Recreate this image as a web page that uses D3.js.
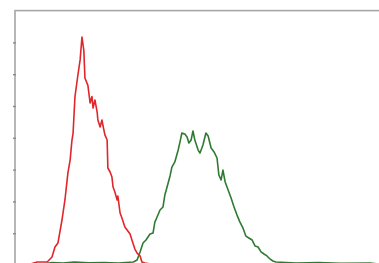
<!DOCTYPE html>
<html>
<head>
<meta charset="utf-8">
<script src="https://cdn.jsdelivr.net/npm/d3@7"></script>
<style>
  body { margin: 0; background: #fff; }
</style>
</head>
<body>
<script>
// channel (fluorescence) values and event counts for the two histograms
var redChannel = [0, 40, 60, 87, 100, 108, 116, 127, 135, 143, 149, 154, 157, 162, 170, 176, 181, 186, 189, 197, 203, 208, 211, 216, 222, 224, 230, 235, 238, 243, 249, 251, 257, 262, 265, 270, 276, 278, 284, 289, 297, 303, 311, 316, 324, 330, 338, 343, 351, 380];
var redCount = [0, 0.5, 1.9, 1.9, 5, 11.3, 13.8, 28.3, 40.9, 57.9, 66, 78.6, 83, 105.7, 119.5, 129, 143.4, 135, 117.6, 113, 101.9, 106, 98.7, 103.8, 96.2, 91.2, 86.8, 91.2, 87.4, 81.8, 78.6, 61, 58.5, 55.3, 49, 45.9, 40.9, 43.4, 32.7, 29.6, 23.9, 22, 19.5, 15.7, 10, 7.5, 5.7, 1.9, 1.3, 0];

var greenChannel = [0, 60, 100, 130, 160, 200, 240, 280, 320, 330, 338, 346, 354, 365, 373, 378, 384, 392, 400, 405, 411, 419, 424, 432, 441, 446, 451, 459, 465, 470, 476, 481, 486, 495, 500, 508, 516, 522, 530, 538, 546, 551, 557, 562, 568, 576, 584, 592, 600, 608, 616, 624, 632, 641, 649, 657, 665, 673, 681, 689, 697, 705, 760, 820, 880, 960, 1000];
var greenCount = [0, 0, 1.5, 1.2, 1.8, 1.4, 1.6, 1.3, 1.9, 3.1, 8.2, 13.8, 15.7, 19.5, 20.1, 27, 30.2, 34.6, 36.5, 44, 49, 56, 61.6, 64.8, 72.3, 77.4, 83, 82.4, 80.5, 76.7, 78.6, 84.3, 78.6, 72.3, 70.4, 75.5, 83, 81.1, 73.6, 71.1, 67.3, 56.6, 53.5, 59.7, 52.2, 47.2, 42.1, 36.5, 31.4, 27, 23.3, 18.2, 17, 15.7, 11.9, 11.3, 8.2, 6.9, 5.7, 3.8, 2.5, 1.9, 1.2, 1.5, 1.1, 1.3, 0];

var countTicks = [20, 40, 60, 80, 100, 120, 140];

var w = 379; // width of SVG space
var h = 263; // height of SVG space
var svg = d3.select("body").append("svg").attr("width", w).attr("height", h);

var x = d3.scaleLinear().domain([0, 1000]).range([15, 385]);
var y = d3.scaleLinear().domain([0, 160]).range([265, 10.6]);

// frame of the plot
svg.append("rect")
  .attr("x", x(0)).attr("y", y(160))
  .attr("width", x(1000) - x(0)).attr("height", y(0) - y(160) + 10)
  .style("fill", "none").style("stroke", "#a6a6a6").style("stroke-width", 1.6);

// small ticks on the left axis, no labels
var yAxis = d3.axisLeft(y).tickValues(countTicks).tickSize(3).tickFormat("");
var ax = svg.append("g").attr("transform", "translate(" + (x(0) + 1) + ",0)").call(yAxis);
ax.select(".domain").remove();
ax.selectAll("line").style("stroke", "#8c8c8c").style("stroke-width", 1.4);

function drawHist(xs, ys, colour) {
  var pts = xs.map(function (d, i) { return [d, ys[i]]; });
  var line = d3.line()
    .x(function (d) { return x(d[0]); })
    .y(function (d) { return y(d[1]); });
  svg.append("path").datum(pts)
    .attr("d", line)
    .style("fill", "none")
    .style("stroke", colour)
    .style("stroke-width", 1.6)
    .style("stroke-linejoin", "round");
}

drawHist(greenChannel, greenCount, "#2f7a32");
drawHist(redChannel, redCount, "#e0262b");
</script>
</body>
</html>
